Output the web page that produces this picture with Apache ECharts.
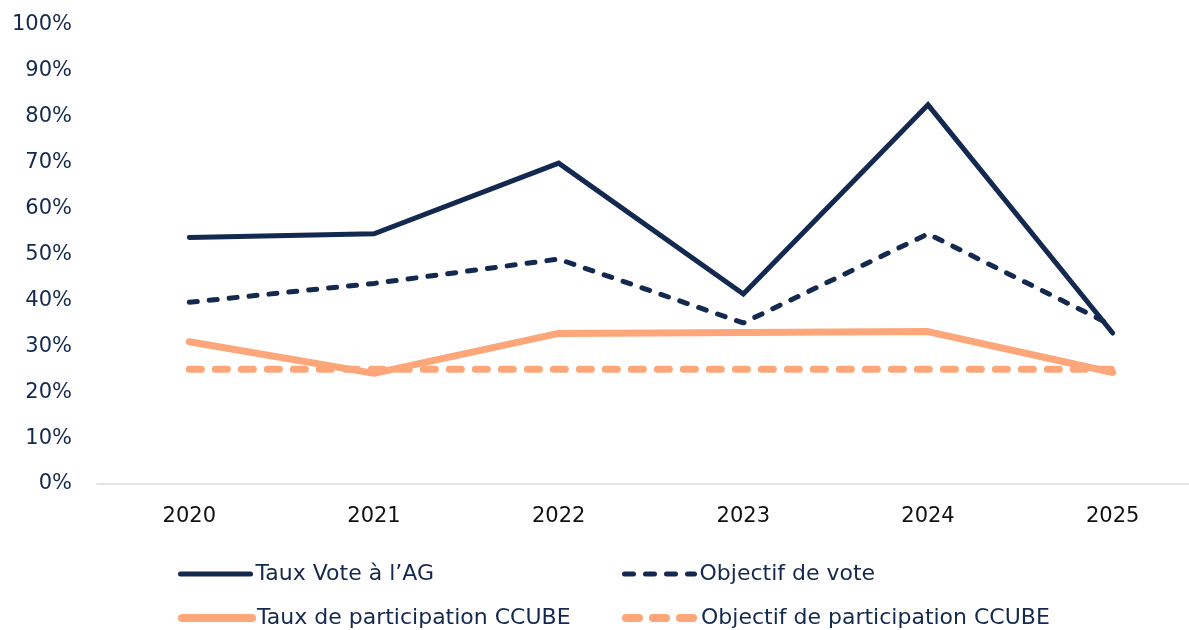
<!DOCTYPE html>
<html lang="fr">
<head>
    <meta charset="UTF-8">
    <title>Taux de vote et de participation</title>
    <script src="https://cdn.jsdelivr.net/npm/echarts@6/dist/echarts.min.js"></script>
    <style>
        html, body { margin: 0; padding: 0; background: #fff; }
        #chart { width: 1189px; height: 630px; }
    </style>
</head>
<body>
<div id="chart"></div>
<script>
    // données (en %)
    var annees = ['2020', '2021', '2022', '2023', '2024', '2025'];
    var tauxVote = [53.7, 54.5, 69.9, 41.4, 82.6, 32.9];
    var objectifVote = [39.6, 43.7, 49.0, 35.1, 54.5, 34.5];
    var tauxParticipation = [31.0, 24.1, 32.8, 33.0, 33.2, 24.3];
    var objectifParticipation = [25, 25, 25, 25, 25, 25];

    var navy = '#14294F';
    var orange = '#FCA679';
    var font = '"DejaVu Sans", sans-serif';

    var myChart = echarts.init(document.getElementById('chart'));

    // une légende par entrée, placée à la main (2 colonnes x 2 lignes)
    function legende(nom, left, top, couleur, largeur, tiret) {
        return {
            data: [nom],
            left: left, top: top,
            padding: 0,
            itemWidth: 70, itemHeight: 20,
            itemStyle: { opacity: 0 },
            lineStyle: { color: couleur, width: largeur, type: tiret, cap: 'round' },
            textStyle: { color: navy, fontSize: 22, fontFamily: font }
        };
    }

    var option = {
        animation: false,
        grid: { left: 97, top: 25, width: 1108, height: 459, outerBoundsMode: 'none' },
        legend: [
            legende('Taux Vote à l’AG', 178, 563, navy, 5, 'solid'),
            legende('Objectif de vote', 622, 563, navy, 5, [9, 12]),
            legende('Taux de participation CCUBE', 178, 607, orange, 8, 'solid'),
            legende('Objectif de participation CCUBE', 622, 607, orange, 8, [13, 14])
        ],
        xAxis: {
            type: 'category',
            data: annees,
            boundaryGap: true,
            axisLine: { lineStyle: { color: '#e3e3e3', width: 2 } },
            axisTick: { show: false },
            axisLabel: { color: '#111', fontSize: 21, fontFamily: font, margin: 22 }
        },
        yAxis: {
            type: 'value',
            min: 0, max: 100, interval: 10,
            splitLine: { show: false },
            axisLine: { show: false },
            axisTick: { show: false },
            axisLabel: {
                color: navy, fontSize: 21, fontFamily: font, margin: 25,
                padding: [9, 0, 0, 0],
                formatter: '{value}%'
            }
        },
        series: [
            {
                name: 'Taux Vote à l’AG', type: 'line', data: tauxVote,
                symbol: 'none', z: 4,
                lineStyle: { color: navy, width: 5, cap: 'round', join: 'miter' },
                itemStyle: { color: navy }
            },
            {
                name: 'Objectif de vote', type: 'line', data: objectifVote,
                symbol: 'none', z: 3,
                lineStyle: { color: navy, width: 5, type: [8, 12], cap: 'round' },
                itemStyle: { color: navy }
            },
            {
                name: 'Taux de participation CCUBE', type: 'line', data: tauxParticipation,
                symbol: 'none', z: 2,
                lineStyle: { color: orange, width: 7, cap: 'round' },
                itemStyle: { color: orange }
            },
            {
                name: 'Objectif de participation CCUBE', type: 'line', data: objectifParticipation,
                symbol: 'none', z: 1,
                lineStyle: { color: orange, width: 7, type: [12, 14], cap: 'round' },
                itemStyle: { color: orange }
            }
        ]
    };
    myChart.setOption(option);
</script>
</body>
</html>
